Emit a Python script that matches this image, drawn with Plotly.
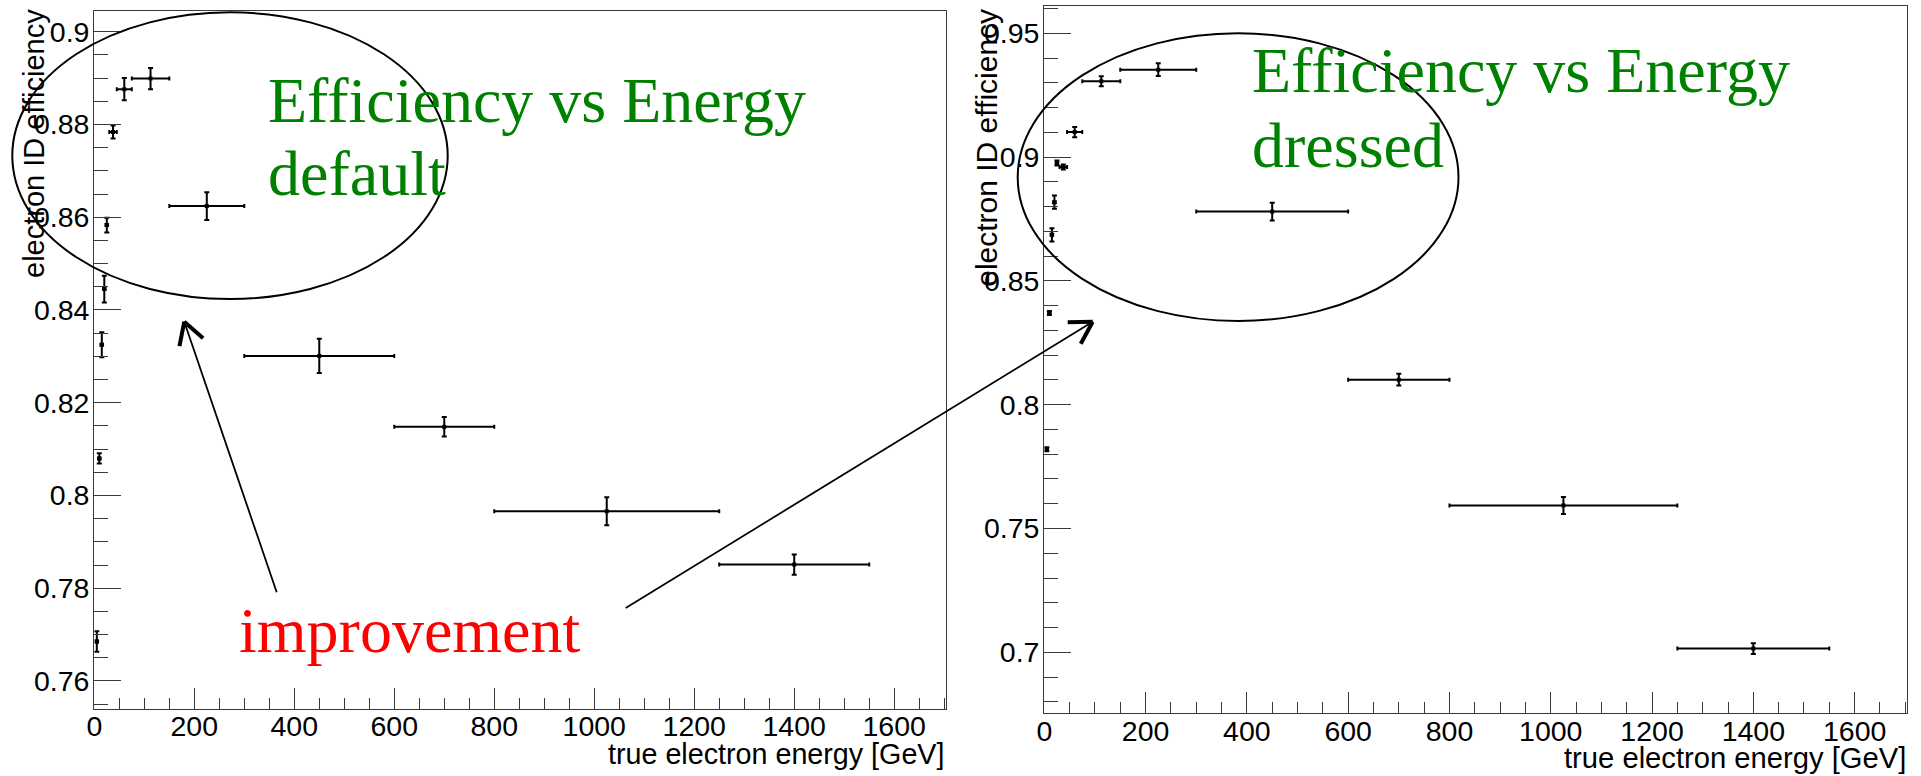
import math
import plotly.graph_objects as go

W, H = 1921, 776

# ---------------- data ----------------
energy = [5, 10, 15, 20, 25, 37.5, 60, 112.5, 225, 450, 700, 1025, 1400]
energy_halfwidth = [2.5, 2.5, 2.5, 2.5, 2.5, 7.5, 15, 37.5, 75, 150, 100, 225, 150]

eff_default = [0.7685, 0.8080, 0.8325, 0.8445, 0.8583, 0.8784, 0.8876,
               0.8899, 0.8624, 0.8301, 0.8148, 0.7966, 0.7851]
err_default = [0.0022, 0.0011, 0.0027, 0.0029, 0.0016, 0.0014, 0.0024,
               0.0023, 0.0030, 0.0037, 0.0021, 0.0030, 0.0022]

eff_dressed = [0.7820, 0.8370, 0.8686, 0.8818, 0.8976, 0.8960, 0.9101,
               0.9306, 0.9353, 0.8780, 0.8101, 0.7593, 0.7015]
err_dressed = [0.0008, 0.0008, 0.0027, 0.0027, 0.0010, 0.0010, 0.0021,
               0.0020, 0.0026, 0.0036, 0.0024, 0.0034, 0.0022]

x_tickvals = [0, 200, 400, 600, 800, 1000, 1200, 1400, 1600]
x_ticktext = ["0", "200", "400", "600", "800", "1000", "1200", "1400", "1600"]
y_left_tickvals = [0.76, 0.78, 0.80, 0.82, 0.84, 0.86, 0.88, 0.90]
y_left_ticktext = ["0.76", "0.78", "0.8", "0.82", "0.84", "0.86", "0.88", "0.9"]
y_right_tickvals = [0.70, 0.75, 0.80, 0.85, 0.90, 0.95]
y_right_ticktext = ["0.7", "0.75", "0.8", "0.85", "0.9", "0.95"]

x_title = "true electron energy [GeV]"
y_title = "electron ID efficiency"
label_left = ["Efficiency vs Energy", "default"]
label_right = ["Efficiency vs Energy", "dressed"]
label_improve = "improvement"

# ---------------- helpers ----------------
def px(x):
    return x / W


def py(y):
    return 1 - y / H


SANS = "Liberation Sans, Arial, Helvetica, sans-serif"
SERIF = "Liberation Serif, Times New Roman, serif"
FRAME = "#3a3a3a"

fig = go.Figure()


def add_series(yvals, yerr, xa, ya):
    fig.add_trace(go.Scatter(
        x=energy, y=yvals, mode="markers",
        marker=dict(symbol="square", size=4, color="black"),
        error_x=dict(type="data", array=energy_halfwidth, thickness=2, width=2, color="black"),
        error_y=dict(type="data", array=yerr, thickness=2, width=2.5, color="black"),
        xaxis=xa, yaxis=ya, showlegend=False, hoverinfo="skip"))


add_series(eff_default, err_default, "x", "y")
add_series(eff_dressed, err_dressed, "x2", "y2")

common = dict(showgrid=False, zeroline=False, showline=True, linecolor=FRAME,
              linewidth=1.3, mirror=True, ticks="inside", tickcolor=FRAME,
              tickwidth=1.3, tickmode="array", automargin=False,
              tickfont=dict(family=SANS, size=28.5, color="black"))

xminor = dict(ticks="inside", ticklen=10.7, tick0=0, dtick=50, tickcolor=FRAME,
              tickwidth=1.3, showgrid=False)

fig.update_layout(
    width=W, height=H,
    margin=dict(l=0, r=0, t=0, b=0, pad=0, autoexpand=False),
    plot_bgcolor="white", paper_bgcolor="white",
    xaxis=dict(common, domain=[px(94.3), px(945.7)], range=[0, 1703], anchor="y",
               tickvals=x_tickvals, ticktext=x_ticktext, ticklen=21, minor=xminor,
               ticklabelstandoff=-8),
    yaxis=dict(common, domain=[py(709), py(10.7)], range=[0.75396, 0.90453], anchor="x",
               tickvals=y_left_tickvals, ticktext=y_left_ticktext, ticklen=26.7,
               ticklabelstandoff=-2,
               minor=dict(ticks="inside", ticklen=14, tick0=0.76, dtick=0.005,
                          tickcolor=FRAME, tickwidth=1.3, showgrid=False)),
    xaxis2=dict(common, domain=[px(1044.3), px(1907.3)], range=[0, 1704], anchor="y2",
                tickvals=x_tickvals, ticktext=x_ticktext, ticklen=21, minor=xminor,
                ticklabelstandoff=-8),
    yaxis2=dict(common, domain=[py(713.3), py(6.3)], range=[0.67536, 0.9609], anchor="x2",
                tickvals=y_right_tickvals, ticktext=y_right_ticktext, ticklen=26.7,
                ticklabelstandoff=-2,
                minor=dict(ticks="inside", ticklen=14, tick0=0.7, dtick=0.01,
                           tickcolor=FRAME, tickwidth=1.3, showgrid=False)),
)

shapes = []
# ellipses
for (x0, y0, x1, y1) in [(12.3, 12.3, 447.7, 299.0), (1017.7, 33.3, 1458.5, 321.0)]:
    shapes.append(dict(type="circle", xref="paper", yref="paper",
                       x0=px(x0), x1=px(x1), y0=py(y1), y1=py(y0),
                       line=dict(color="black", width=2)))


def arrow(tail, tip, head_len=25, ang=30):
    (tx, ty), (hx, hy) = tail, tip
    shapes.append(dict(type="line", xref="paper", yref="paper",
                       x0=px(tx), y0=py(ty), x1=px(hx), y1=py(hy),
                       line=dict(color="black", width=1.8)))
    dx, dy = tx - hx, ty - hy
    L = math.hypot(dx, dy)
    ux, uy = dx / L, dy / L
    for s in (1, -1):
        a = math.radians(ang) * s
        vx = ux * math.cos(a) - uy * math.sin(a)
        vy = ux * math.sin(a) + uy * math.cos(a)
        shapes.append(dict(type="line", xref="paper", yref="paper",
                           x0=px(hx), y0=py(hy), x1=px(hx + head_len * vx), y1=py(hy + head_len * vy),
                           line=dict(color="black", width=4)))


arrow((276.7, 592.3), (184.3, 321.7))
arrow((625.7, 608.0), (1092.7, 321.7))
fig.update_layout(shapes=shapes)

ann = []


def text(t, x, yc, size, color, family, xanchor="left", angle=0):
    ann.append(dict(text=t, x=px(x), y=py(yc), xref="paper", yref="paper",
                    xanchor=xanchor, yanchor="middle", showarrow=False,
                    textangle=angle, font=dict(family=family, size=size, color=color)))


GREEN = "#008000"
text(label_left[0], 266.0, 100.1, 64, GREEN, SERIF)
text(label_left[1], 266.0, 173.4, 64, GREEN, SERIF)
text(label_right[0], 1249.5, 70.1, 64, GREEN, SERIF)
text(label_right[1], 1249.5, 145.1, 64, GREEN, SERIF)
text(label_improve, 236.5, 630.1, 64, "#ff0000", SERIF)

# axis titles (ROOT style: right / top aligned)
text(x_title, 946.0, 754.3, 28.7, "black", SANS, xanchor="right")
text(x_title, 1908.0, 758.3, 29.2, "black", SANS, xanchor="right")
text(y_title, 34.0, 144.0, 29.0, "black", SANS, xanchor="center", angle=-90)
text(y_title, 986.5, 148.3, 30.0, "black", SANS, xanchor="center", angle=-90)

fig.update_layout(annotations=ann)

fig.write_html("out.html", config={"displayModeBar": False})
